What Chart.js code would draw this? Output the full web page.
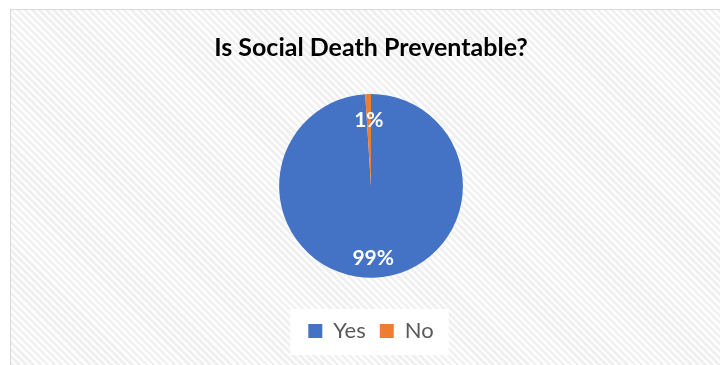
<!DOCTYPE html>
<html>
<head>
<meta charset="utf-8">
<script src="https://cdn.jsdelivr.net/npm/chart.js@4.4.0/dist/chart.umd.min.js"></script>
<style>
    html, body { margin: 0; padding: 0; width: 720px; height: 365px; overflow: hidden; background: #fff; }
    #frame {
        position: absolute; left: 10px; top: 9px; width: 740px; height: 380px;
        border-left: 1px solid #d9d9d9; border-top: 1px solid #d9d9d9;
        background: repeating-linear-gradient(45deg, #fdfdfd 0px, #fdfdfd 2.5px, #f0f0f0 2.5px, #f0f0f0 5px);
    }
    #wrap { position: absolute; left: 11px; top: 10px; width: 720px; height: 355px; }
</style>
</head>
<body>
<div id="frame"></div>
<div id="wrap"><canvas id="chart"></canvas></div>
<script>
// Data
const labels = ["Yes", "No"];
const values = [99, 1];
const percentLabels = ["99%", "1%"];
const colors = ["#4472C4", "#ED7D31"];

// White box behind the legend items
const legendBox = {
    id: "legendBox",
    beforeDraw(chart) {
        const boxes = chart.legend.legendHitBoxes;
        if (!boxes || !boxes.length) return;
        const first = boxes[0];
        const last = boxes[boxes.length - 1];
        const cy = first.top + first.height / 2;
        const ctx = chart.ctx;
        ctx.save();
        ctx.fillStyle = "#ffffff";
        ctx.fillRect(first.left - 18, cy - 22, (last.left + last.width) - first.left + 33, 46);
        ctx.restore();
    }
};

// Percent labels inside the slices
const sliceLabels = {
    id: "sliceLabels",
    afterDatasetsDraw(chart) {
        const ctx = chart.ctx;
        const meta = chart.getDatasetMeta(0);
        ctx.save();
        ctx.fillStyle = "#ffffff";
        ctx.font = "bold 21px Lato";
        ctx.textAlign = "center";
        ctx.textBaseline = "middle";
        meta.data.forEach((arc, i) => {
            const p = arc.getProps(["x", "y", "startAngle", "endAngle", "outerRadius"], true);
            const mid = (p.startAngle + p.endAngle) / 2;
            const r = p.outerRadius * 0.75;
            ctx.fillText(percentLabels[i], p.x + Math.cos(mid) * r, p.y + Math.sin(mid) * r + 3);
        });
        ctx.restore();
    }
};

new Chart(document.getElementById("chart"), {
    type: "pie",
    data: {
        labels: labels,
        datasets: [{
            data: values,
            backgroundColor: colors,
            borderWidth: 0
        }]
    },
    options: {
        responsive: true,
        maintainAspectRatio: false,
        animation: false,
        layout: { padding: { bottom: 13 } },
        plugins: {
            title: {
                display: true,
                text: "Is Social Death Preventable?",
                color: "#000000",
                font: { family: "Lato", size: 25, weight: "bold" },
                padding: { top: 23, bottom: 31 }
            },
            legend: {
                position: "bottom",
                title: {
                    // spacer between pie and legend row
                    display: true,
                    text: " ",
                    font: { size: 1 },
                    padding: { top: 17, bottom: 10 }
                },
                labels: {
                    color: "#595959",
                    font: { family: "Lato", size: 22 },
                    boxWidth: 14,
                    boxHeight: 14,
                    padding: 14
                }
            },
            tooltip: { enabled: false }
        }
    },
    plugins: [legendBox, sliceLabels]
});
</script>
</body>
</html>
